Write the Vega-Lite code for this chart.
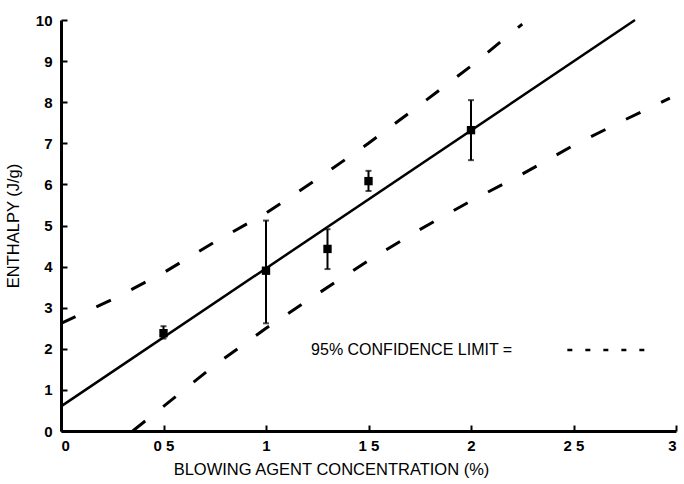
{
  "$schema": "https://vega.github.io/schema/vega-lite/v6.json",
  "width": 615,
  "height": 411,
  "autosize": {"type": "none"},
  "padding": {"left": 61, "top": 20, "right": 8, "bottom": 53},
  "background": "white",
  "config": {
    "view": {"stroke": null},
    "font": "Liberation Sans",
    "axis": {
      "grid": false,
      "domainColor": "black",
      "domainWidth": 3,
      "tickColor": "black",
      "tickWidth": 2,
      "tickSize": -6,
      "labelColor": "black",
      "labelFont": "Liberation Sans",
      "labelFontSize": 15,
      "labelFontWeight": "bold",
      "titleColor": "black",
      "titleFont": "Liberation Sans",
      "titleFontSize": 16.5,
      "titleFontWeight": "normal"
    }
  },
  "datasets": {
    "points": [
      {"conc": 0.5, "enthalpy": 2.38, "lo": 2.25, "hi": 2.55},
      {"conc": 1.0, "enthalpy": 3.9, "lo": 2.62, "hi": 5.12},
      {"conc": 1.3, "enthalpy": 4.43, "lo": 3.94, "hi": 4.91},
      {"conc": 1.5, "enthalpy": 6.08, "lo": 5.84, "hi": 6.33},
      {"conc": 2.0, "enthalpy": 7.32, "lo": 6.59, "hi": 8.05}
    ],
    "fit": [
      {"conc": 0, "enthalpy": 0.6},
      {"conc": 2.8, "enthalpy": 10}
    ],
    "ci": [
      {"limit": "upper", "conc": 0, "enthalpy": 2.62},
      {"limit": "upper", "conc": 0.25, "enthalpy": 3.2},
      {"limit": "upper", "conc": 0.5, "enthalpy": 3.85},
      {"limit": "upper", "conc": 0.75, "enthalpy": 4.6},
      {"limit": "upper", "conc": 1.0, "enthalpy": 5.3},
      {"limit": "upper", "conc": 1.25, "enthalpy": 6.13},
      {"limit": "upper", "conc": 1.5, "enthalpy": 7.0},
      {"limit": "upper", "conc": 1.75, "enthalpy": 7.93},
      {"limit": "upper", "conc": 2.0, "enthalpy": 8.88},
      {"limit": "upper", "conc": 2.25, "enthalpy": 9.9},
      {"limit": "lower", "conc": 0.35, "enthalpy": 0},
      {"limit": "lower", "conc": 0.5, "enthalpy": 0.6},
      {"limit": "lower", "conc": 0.75, "enthalpy": 1.6},
      {"limit": "lower", "conc": 1.0, "enthalpy": 2.5},
      {"limit": "lower", "conc": 1.25, "enthalpy": 3.33},
      {"limit": "lower", "conc": 1.5, "enthalpy": 4.15},
      {"limit": "lower", "conc": 1.75, "enthalpy": 4.9},
      {"limit": "lower", "conc": 2.0, "enthalpy": 5.6},
      {"limit": "lower", "conc": 2.25, "enthalpy": 6.25},
      {"limit": "lower", "conc": 2.5, "enthalpy": 6.95},
      {"limit": "lower", "conc": 2.75, "enthalpy": 7.57},
      {"limit": "lower", "conc": 2.97, "enthalpy": 8.1}
    ],
    "legendLine": [
      {"conc": 2.47, "enthalpy": 1.97},
      {"conc": 2.88, "enthalpy": 1.97}
    ],
    "legendText": [
      {"conc": 1.22, "enthalpy": 1.97, "label": "95% CONFIDENCE LIMIT ="}
    ]
  },
  "layer": [
    {
      "data": {"name": "ci"},
      "mark": {"type": "line", "color": "black", "strokeWidth": 3, "strokeDash": [16, 23], "clip": true},
      "encoding": {
        "x": {"field": "conc", "type": "quantitative", "scale": {"domain": [0, 3]},
          "axis": {"values": [0, 0.5, 1, 1.5, 2, 2.5, 3], "format": "~g", "labelExpr": "replace(datum.label, '.', ' ')", "title": "BLOWING AGENT CONCENTRATION (%)", "labelPadding": 13, "titlePadding": 8, "titleX": 270, "titleAlign": "center"}},
        "y": {"field": "enthalpy", "type": "quantitative", "scale": {"domain": [0, 10]},
          "axis": {"values": [0,1,2,3,4,5,6,7,8,9,10], "title": "ENTHALPY (J/g)", "labelPadding": 15, "titlePadding": 14}},
        "detail": {"field": "limit"}
      }
    },
    {
      "data": {"name": "fit"},
      "mark": {"type": "line", "color": "black", "strokeWidth": 2.5},
      "encoding": {
        "x": {"field": "conc", "type": "quantitative"},
        "y": {"field": "enthalpy", "type": "quantitative"}
      }
    },
    {
      "data": {"name": "points"},
      "mark": {"type": "rule", "color": "black", "strokeWidth": 2},
      "encoding": {
        "x": {"field": "conc", "type": "quantitative"},
        "y": {"field": "lo", "type": "quantitative"},
        "y2": {"field": "hi"}
      }
    },
    {
      "data": {"name": "points"},
      "mark": {"type": "tick", "color": "black", "orient": "horizontal", "size": 6, "thickness": 2},
      "encoding": {
        "x": {"field": "conc", "type": "quantitative"},
        "y": {"field": "lo", "type": "quantitative"}
      }
    },
    {
      "data": {"name": "points"},
      "mark": {"type": "tick", "color": "black", "orient": "horizontal", "size": 6, "thickness": 2},
      "encoding": {
        "x": {"field": "conc", "type": "quantitative"},
        "y": {"field": "hi", "type": "quantitative"}
      }
    },
    {
      "data": {"name": "points"},
      "mark": {"type": "square", "color": "black", "filled": true, "opacity": 1, "size": 70},
      "encoding": {
        "x": {"field": "conc", "type": "quantitative"},
        "y": {"field": "enthalpy", "type": "quantitative"}
      }
    },
    {
      "data": {"name": "legendLine"},
      "mark": {"type": "line", "color": "black", "strokeWidth": 2.5, "strokeDash": [5, 13]},
      "encoding": {
        "x": {"field": "conc", "type": "quantitative"},
        "y": {"field": "enthalpy", "type": "quantitative"}
      }
    },
    {
      "data": {"name": "legendText"},
      "mark": {"type": "text", "align": "left", "baseline": "middle", "fontSize": 16, "font": "Liberation Sans", "color": "black"},
      "encoding": {
        "x": {"field": "conc", "type": "quantitative"},
        "y": {"field": "enthalpy", "type": "quantitative"},
        "text": {"field": "label"}
      }
    }
  ]
}
